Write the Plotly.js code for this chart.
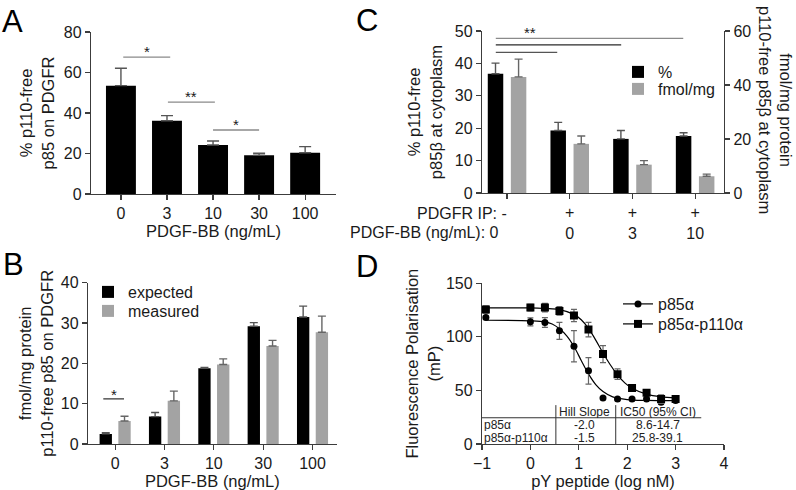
<!DOCTYPE html>
<html><head><meta charset="utf-8">
<script src="https://cdn.plot.ly/plotly-3.0.1.min.js"></script>
<style>html,body{margin:0;padding:0;background:#fff}#chart{width:796px;height:490px}</style>
</head><body><div id="chart"></div>
<script>
// ---------- Panel A ----------
const doseLabels = ['0', '3', '10', '30', '100'];
const aValues = [53.5, 36.2, 24.2, 19.1, 20.4];
const aErrors = [8.6, 2.5, 2.0, 1.0, 3.0];
const aSigFrom = [0.05, 1.02, 2.0];
const aSigTo = [1.07, 2.04, 3.0];
const aSigY = [67.6, 45.4, 31.6];
const aSigLabel = ['*', '**', '*'];

// ---------- Panel B ----------
const bExpected = [2.5, 6.8, 18.8, 29.2, 31.5];
const bExpectedErr = [0.3, 1.0, 0.2, 0.9, 2.7];
const bMeasured = [5.7, 10.7, 19.7, 24.3, 27.7];
const bMeasuredErr = [1.2, 2.4, 1.4, 1.4, 4.0];
const bSigFrom = [-0.24];
const bSigTo = [0.18];
const bSigY = [11.2];
const bSigLabel = ['*'];

// ---------- Panel C ----------
const cIP = ['-', '+', '+', '+'];
const cBB = ['0', '0', '3', '10'];
const cRowHeaders = ['PDGFR IP:', 'PDGF-BB (ng/mL):'];
const cPercent = [36.8, 19.3, 16.7, 17.6];
const cPercentErr = [3.3, 2.5, 2.6, 1.0];
const cFmol = [43.0, 18.2, 10.5, 6.2];
const cFmolErr = [6.6, 2.9, 1.5, 0.8];
const cSigFrom = [-0.18, -0.18, -0.18];
const cSigTo = [2.81, 1.82, 0.8];
const cSigY = [47.7, 45.7, 43.4];
const cSigColor = ['#8a8a8a', '#2a2a2a', '#555555'];
const cSigLabel = '**';

// ---------- Panel D ----------
const dLogX = [-0.92, 0, 0.3, 0.6, 0.9, 1.2, 1.5, 1.8, 2.1, 2.4, 2.7, 3.0];
const dP85 = [118, 114, 113.4, 105.6, 91.3, 68.3, 42.9, 41.9, 41.9, 41.9, 39.0, 40.5];
const dP85Err = [1.5, 3.7, 4.5, 8, 14.6, 12.4, 1, 1, 1, 1, 1.5, 1];
const dP85P110 = [125.5, 127.3, 127.3, 124.2, 119.9, 106.8, 83.9, 65.2, 52.2, 47.8, 41.9, 41.9];
const dP85P110Err = [3.4, 3, 4, 4, 5.7, 6.8, 8, 5, 2, 2, 4, 2];
const fitP85X = [-0.92, 0, 0.3, 0.45, 0.6, 0.75, 0.9, 1.05, 1.2, 1.35, 1.5, 1.7, 2.0, 2.4, 3.0];
const fitP85Y = [115.5, 115, 114, 112, 107.5, 101, 91, 78, 65.5, 55.5, 49, 44, 41.5, 40.7, 40.5];
const fitP110X = [-0.92, 0, 0.3, 0.6, 0.9, 1.05, 1.2, 1.35, 1.5, 1.65, 1.8, 1.95, 2.1, 2.4, 2.7, 3.0];
const fitP110Y = [127, 127, 126.5, 125.5, 121, 116, 108, 97, 85, 74, 64.5, 57, 52, 46.5, 44, 43];
const seriesNames = ['p85α', 'p85α-p110α'];
const tableHeaders = ['Hill Slope', 'IC50 (95% CI)'];
const tableHill = ['-2.0', '-1.5'];
const tableIC50 = ['8.6-14.7', '25.8-39.1'];

// ---------- styling ----------
const FONT = 'Liberation Sans, Arial, Helvetica, sans-serif';
const TXT = '#1a1a1a';
const AX = '#3c3c3c';
const GRAY = '#a3a3a3';
function axis(extra) {
  return Object.assign({
    showline: true, linecolor: AX, linewidth: 1.2, ticks: 'outside', ticklen: 5,
    tickwidth: 1.2, tickcolor: AX, showgrid: false, zeroline: false,
    tickfont: {size: 16, color: TXT}, fixedrange: true
  }, extra);
}
function upErr(arr, color, w) {
  return {type: 'data', symmetric: false, array: arr, arrayminus: arr.map(() => 0),
          color: color, thickness: 1.4, width: w};
}
const cCats = cIP.map((v, i) => v + ' ' + cBB[i]);

const traces = [
  {type: 'bar', x: doseLabels, y: aValues, xaxis: 'x', yaxis: 'y', width: 0.65,
   marker: {color: '#000'}, error_y: upErr(aErrors, '#555', 6), showlegend: false, hoverinfo: 'skip'},
  {type: 'bar', name: 'expected', x: doseLabels, y: bExpected, xaxis: 'x2', yaxis: 'y2',
   width: 0.25, offset: -0.315, marker: {color: '#000'}, error_y: upErr(bExpectedErr, '#555', 4),
   legend: 'legend'},
  {type: 'bar', name: 'measured', x: doseLabels, y: bMeasured, xaxis: 'x2', yaxis: 'y2',
   width: 0.25, offset: 0.065, marker: {color: GRAY}, error_y: upErr(bMeasuredErr, '#666', 4),
   legend: 'legend4'},
  {type: 'bar', name: '%', x: cCats, y: cPercent, xaxis: 'x3', yaxis: 'y3',
   width: 0.247, offset: -0.308, marker: {color: '#000'}, error_y: upErr(cPercentErr, '#555', 4),
   legend: 'legend2'},
  {type: 'bar', name: 'fmol/mg', x: cCats, y: cFmol, xaxis: 'x3', yaxis: 'y4',
   width: 0.247, offset: 0.06, marker: {color: GRAY}, error_y: upErr(cFmolErr, '#666', 4),
   legend: 'legend5'},
  {type: 'scatter', mode: 'lines', x: fitP85X, y: fitP85Y, xaxis: 'x4', yaxis: 'y5',
   line: {color: '#000', width: 1.2, shape: 'spline', smoothing: 1}, showlegend: false, hoverinfo: 'skip'},
  {type: 'scatter', mode: 'lines', x: fitP110X, y: fitP110Y, xaxis: 'x4', yaxis: 'y5',
   line: {color: '#000', width: 1.2, shape: 'spline', smoothing: 1}, showlegend: false, hoverinfo: 'skip'},
  {type: 'scatter', mode: 'markers', x: dLogX, y: dP85, xaxis: 'x4', yaxis: 'y5',
   marker: {symbol: 'circle', size: 7, color: '#000'},
   error_y: {type: 'data', array: dP85Err, color: '#666', thickness: 1.2, width: 3}, showlegend: false},
  {type: 'scatter', mode: 'markers', x: dLogX, y: dP85P110, xaxis: 'x4', yaxis: 'y5',
   marker: {symbol: 'square', size: 8, color: '#000'},
   error_y: {type: 'data', array: dP85P110Err, color: '#666', thickness: 1.2, width: 3}, showlegend: false},
  {type: 'scatter', mode: 'lines+markers', name: seriesNames[0], x: [null], y: [null], xaxis: 'x4', yaxis: 'y5',
   marker: {symbol: 'circle', size: 7, color: '#000'}, line: {color: '#000', width: 1.2}, legend: 'legend3'},
  {type: 'scatter', mode: 'lines+markers', name: seriesNames[1], x: [null], y: [null], xaxis: 'x4', yaxis: 'y5',
   marker: {symbol: 'square', size: 8, color: '#000'}, line: {color: '#000', width: 1.2}, legend: 'legend6'}
];

const shapes = [];
const annotations = [];
function sig(xref, yref, from, to, y, label, color, starX, yshift) {
  shapes.push({type: 'line', xref: xref, yref: yref, x0: from, x1: to, y0: y, y1: y,
               line: {color: color, width: 1.3}});
  if (label) annotations.push({xref: xref, yref: yref, x: starX, y: y, text: label, showarrow: false,
               yanchor: 'middle', yshift: yshift, font: {size: 15, color: TXT}});
}
aSigY.forEach((y, i) => sig('x', 'y', aSigFrom[i], aSigTo[i], y, aSigLabel[i], '#8a8a8a', (aSigFrom[i] + aSigTo[i]) / 2, 6));
bSigY.forEach((y, i) => sig('x2', 'y2', bSigFrom[i], bSigTo[i], y, bSigLabel[i], '#333', (bSigFrom[i] + bSigTo[i]) / 2, 4));
cSigY.forEach((y, i) => sig('x3', 'y3', cSigFrom[i], cSigTo[i], y, i === 0 ? cSigLabel : '', cSigColor[i], 0.37, 6));

// table in panel D
const tl = {color: '#333', width: 1};
shapes.push({type: 'line', xref: 'x4', yref: 'y5', x0: -1, x1: 3.53, y0: 24.5, y1: 24.5, line: tl});
shapes.push({type: 'line', xref: 'x4', yref: 'y5', x0: 0.526, x1: 0.526, y0: 0, y1: 36.3, line: tl});
shapes.push({type: 'line', xref: 'x4', yref: 'y5', x0: 1.763, x1: 1.763, y0: 0, y1: 36.3, line: tl});
const tf = {size: 12, color: '#222'};
const colX = [1.12, 2.63];
const rowY = [17.7, 5.9];
const cell = (x, y, t, xa) => ({xref: 'x4', yref: 'y5', x: x, y: y, text: t, showarrow: false, font: tf,
  xanchor: xa || 'center', yanchor: 'middle', height: 12, borderpad: 0});
tableHeaders.forEach((t, i) => annotations.push(cell(colX[i], 30, t)));
seriesNames.forEach((t, i) => {
  annotations.push(cell(-0.97, rowY[i], t, 'left'));
  annotations.push(cell(colX[0], rowY[i], tableHill[i]));
  annotations.push(cell(colX[1], rowY[i], tableIC50[i]));
});

// row headers of panel C category labels
annotations.push({xref: 'paper', yref: 'paper', x: 509 / 796, y: 1 - 213 / 490, xanchor: 'right', yanchor: 'middle',
  text: cRowHeaders[0] + ' ' + cIP[0], showarrow: false, font: {size: 16, color: TXT}});
annotations.push({xref: 'paper', yref: 'paper', x: 501 / 796, y: 1 - 233 / 490, xanchor: 'right', yanchor: 'middle',
  text: cRowHeaders[1] + ' ' + cBB[0], showarrow: false, font: {size: 16, color: TXT}});

// right axis title of panel C (reads top-to-bottom)
annotations.push({xref: 'paper', yref: 'paper', x: 776 / 796, y: 1 - 110 / 490, xanchor: 'center', yanchor: 'middle',
  textangle: 90, text: 'fmol/mg protein<br>p110-free p85β at cytoplasm', showarrow: false, font: {size: 16.5, color: TXT}});

// panel letters
[['A', 12.5, 22], ['B', 13.5, 264], ['C', 367, 21], ['D', 367, 266]].forEach(p => annotations.push({
  xref: 'paper', yref: 'paper', x: p[1] / 796, y: 1 - p[2] / 490, xanchor: 'center', yanchor: 'middle',
  text: p[0], showarrow: false, font: {size: 31, color: '#000'}}));

const tfont = {size: 16.5, color: TXT};
const lg = (left, top) => ({x: left / 796, y: 1 - top / 490, xanchor: 'left', yanchor: 'top',
  bgcolor: 'rgba(0,0,0,0)', font: {size: 16, color: TXT}, itemwidth: 30, tracegroupgap: 0});
const layout = {
  width: 796, height: 490, margin: {l: 0, r: 0, t: 0, b: 0},
  paper_bgcolor: '#fff', plot_bgcolor: 'rgba(0,0,0,0)',
  font: {family: FONT, size: 16, color: TXT},
  barmode: 'overlay',
  xaxis: axis({domain: [91 / 796, 336 / 796], anchor: 'y', type: 'category', range: [-0.65, 4.67],
               title: {text: 'PDGF-BB (ng/mL)', font: tfont, standoff: 0}}),
  yaxis: axis({domain: [1 - 194 / 490, 1 - 32 / 490], anchor: 'x', range: [0, 80], dtick: 20,
               title: {text: '% p110-free<br>p85 on PDGFR', font: tfont, standoff: 5}}),
  xaxis2: axis({domain: [88 / 796, 336.7 / 796], anchor: 'y2', type: 'category', range: [-0.55, 4.49],
               title: {text: 'PDGF-BB (ng/mL)', font: tfont, standoff: 2}}),
  yaxis2: axis({domain: [1 - 444 / 490, 1 - 282.7 / 490], anchor: 'x2', range: [0, 40], dtick: 10,
               title: {text: 'fmol/mg protein<br>p110-free p85 on PDGFR', font: tfont, standoff: 3}}),
  xaxis3: axis({domain: [482 / 796, 724 / 796], anchor: 'y3', type: 'category', range: [-0.4, 3.46],
               tickvals: cCats, ticktext: cCats.map((c, i) => i === 0 ? '' : cIP[i] + '<br>' + cBB[i])}),
  yaxis3: axis({domain: [1 - 193 / 490, 1 - 31 / 490], anchor: 'x3', range: [0, 50], dtick: 10,
               title: {text: '% p110-free<br>p85β at cytoplasm', font: tfont, standoff: 8}}),
  yaxis4: axis({overlaying: 'y3', side: 'right', anchor: 'x3', range: [0, 60], dtick: 20}),
  xaxis4: axis({domain: [482 / 796, 724 / 796], anchor: 'y5', range: [-1, 4], dtick: 1,
               title: {text: 'pY peptide (log nM)', font: tfont, standoff: 2}}),
  yaxis5: axis({domain: [1 - 444 / 490, 1 - 283.3 / 490], anchor: 'x4', range: [0, 150], dtick: 50,
               title: {text: 'Fluorescence Polarisation<br>(mP)', font: tfont, standoff: 1}}),
  legend: lg(88, 275),
  legend4: lg(88, 294),
  legend2: lg(618, 55),
  legend5: lg(618, 72),
  legend3: lg(618, 287),
  legend6: lg(618, 307),
  showlegend: true,
  shapes: shapes,
  annotations: annotations
};
Plotly.newPlot('chart', traces, layout, {displayModeBar: false, staticPlot: true});
</script></body></html>
